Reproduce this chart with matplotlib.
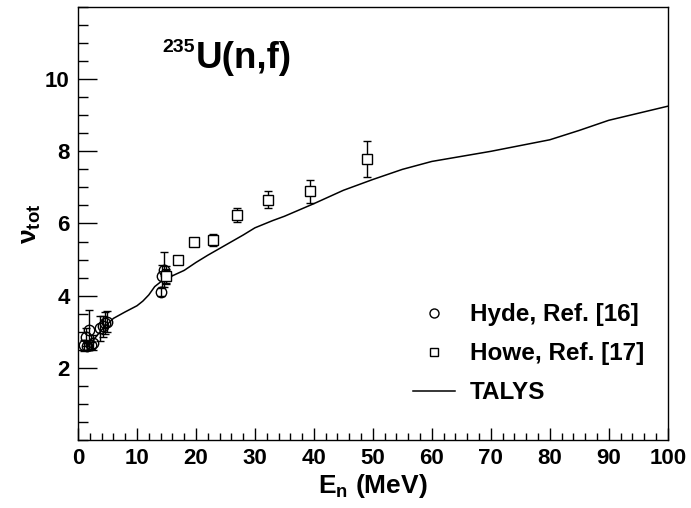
import matplotlib
matplotlib.use('Agg')
import matplotlib.pyplot as plt
from matplotlib.lines import Line2D
from matplotlib.ticker import FixedLocator, MultipleLocator

plt.rcParams['font.family'] = ['Liberation Sans', 'DejaVu Sans']
plt.rcParams['font.weight'] = 'bold'
plt.rcParams['axes.labelweight'] = 'bold'
plt.rcParams['mathtext.fontset'] = 'custom'
plt.rcParams['mathtext.rm'] = 'Liberation Sans:bold'
plt.rcParams['mathtext.it'] = 'Liberation Sans:bold'
plt.rcParams['mathtext.bf'] = 'Liberation Sans:bold'
plt.rcParams['mathtext.default'] = 'rm'

# Hyde, Ref. [16]
hyde_E = [1.0, 1.3, 1.5, 1.9, 2.2, 2.6, 3.8, 4.3, 4.6, 4.9, 14.0, 14.3, 14.6, 14.9]
hyde_nu = [2.62, 2.85, 2.60, 3.05, 2.62, 2.70, 3.10, 3.15, 3.25, 3.28, 4.10, 4.55, 4.72, 4.58]
hyde_err = [0.15, 0.25, 0.10, 0.55, 0.10, 0.20, 0.35, 0.30, 0.30, 0.30, 0.10, 0.30, 0.48, 0.25]

# Howe, Ref. [17]
howe_E = [15.0, 17.0, 19.6, 22.9, 26.9, 32.2, 39.3, 49.0]
howe_nu = [4.55, 4.99, 5.50, 5.55, 6.24, 6.66, 6.89, 7.79]
howe_err = [0.20, 0.05, 0.05, 0.16, 0.19, 0.23, 0.31, 0.49]

# TALYS
talys_E = [2, 4, 6, 8, 10, 11, 12, 13, 14, 15, 16, 18, 20, 22, 25, 28, 30, 33, 35, 40, 45, 50,
           55, 60, 70, 80, 85, 90, 100]
talys_nu = [2.65, 3.05, 3.37, 3.55, 3.72, 3.85, 4.02, 4.25, 4.38, 4.48, 4.55, 4.70, 4.92, 5.12,
            5.40, 5.68, 5.88, 6.08, 6.20, 6.55, 6.92, 7.22, 7.50, 7.72, 8.00, 8.32, 8.58, 8.86, 9.25]

x_ticks = [0, 10, 20, 30, 40, 50, 60, 70, 80, 90, 100]
y_ticks = [2, 4, 6, 8, 10]

fig = plt.figure(figsize=(6.91, 5.08), dpi=100)
ax = fig.add_axes([0.1129, 0.1339, 0.8534, 0.8523])

ax.errorbar(hyde_E, hyde_nu, yerr=hyde_err, fmt='o', color='black', mfc='none', mec='black',
            ms=7.5, mew=1.0, elinewidth=1.0, capsize=3, capthick=1.0)
ax.errorbar(howe_E, howe_nu, yerr=howe_err, fmt='s', color='black', mfc='white', mec='black',
            ms=6.5, mew=1.0, elinewidth=1.0, capsize=3, capthick=1.0)
ax.plot(talys_E, talys_nu, color='black', lw=1.1)

ax.set_xlim(0, 100)
ax.set_ylim(0, 12)
ax.xaxis.set_major_locator(FixedLocator(x_ticks))
ax.xaxis.set_minor_locator(MultipleLocator(2))
ax.yaxis.set_major_locator(FixedLocator(y_ticks))
ax.yaxis.set_minor_locator(MultipleLocator(0.5))
ax.tick_params(axis='both', which='both', direction='in', top=False, right=False,
               labelsize=16, width=1.0)
ax.tick_params(axis='x', which='major', length=8.5, pad=6)
ax.tick_params(axis='x', which='minor', length=4.8)
ax.tick_params(axis='y', which='major', length=14, pad=6)
ax.tick_params(axis='y', which='minor', length=7)
for s in ax.spines.values():
    s.set_linewidth(1.0)

ax.set_xlabel('E$_n$ (MeV)', fontsize=19, labelpad=2)
ax.set_ylabel(r'$\nu_{tot}$', fontsize=19, labelpad=1.5)

# reaction label, superscript drawn as its own text
ax.text(0.1425, 0.897, '235', transform=ax.transAxes, fontsize=14, ha='left', va='baseline')
ax.text(0.2, 0.859, 'U(n,f)', transform=ax.transAxes, fontsize=26.5, ha='left', va='baseline')

# legend entries: markers only, no error bars
handles = [Line2D([], [], ls='none', marker='o', mfc='none', mec='black', ms=6.5, mew=1.0),
           Line2D([], [], ls='none', marker='s', mfc='none', mec='black', ms=5.5, mew=1.0),
           Line2D([], [], color='black', lw=1.1)]
labels = ['Hyde, Ref. [16]', 'Howe, Ref. [17]', 'TALYS']
ax.legend(handles, labels, loc='upper left', bbox_to_anchor=(0.568, 0.316), frameon=False,
          fontsize=17.5, borderaxespad=0, borderpad=0, handlelength=1.75, handletextpad=0.6,
          labelspacing=0.66)

fig.savefig('out.png', dpi=100)
